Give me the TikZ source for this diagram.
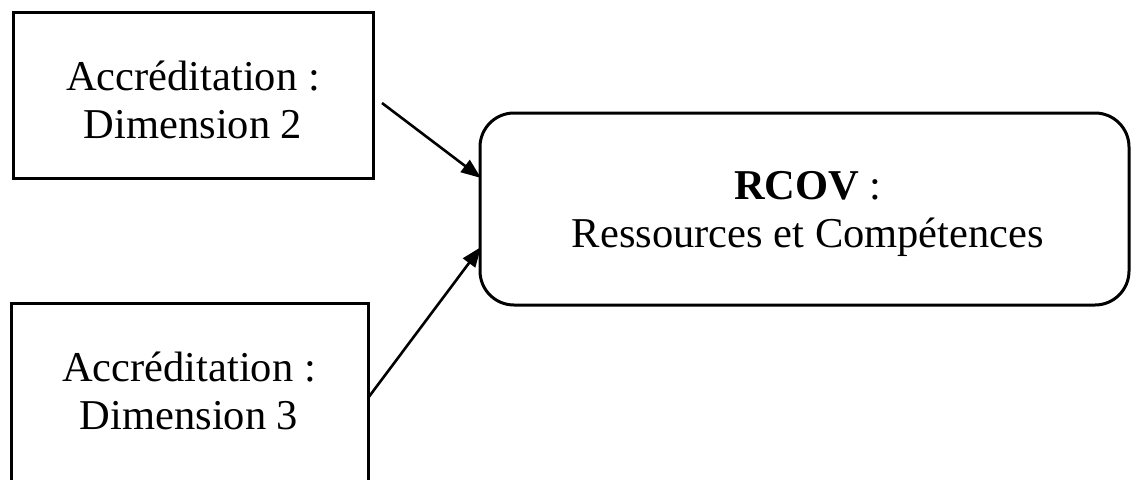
\documentclass[tikz,border=0pt]{standalone}
\usepackage{fontspec}
\setmainfont{Liberation Serif}
\usetikzlibrary{arrows.meta}
\begin{document}
\begin{tikzpicture}[x=1pt,y=-1pt,
  txt/.style={font=\fontsize{42.5}{48}\selectfont, align=center, inner sep=0pt},
  sqbox/.style={draw, line width=3pt, txt},
  rbox/.style={draw, line width=3pt, rounded corners=34pt, txt},
  arr/.style={line width=2.6pt, -{Triangle[length=20pt,width=15pt]}}]
\useasboundingbox (0,0) rectangle (1131,479);
\clip (0,0) rectangle (1131,479);
\node[sqbox, minimum width=360pt, minimum height=166pt] (a2) at (193,95) {};
\node[txt] (t2) at (193,100) {Accréditation :\\Dimension 2};
\node[sqbox, minimum width=357pt, minimum height=190pt] (a3) at (189.5,398) {};
\node[txt] (t3) at (189,391) {Accréditation :\\Dimension 3};
\node[rbox, minimum width=649pt, minimum height=192pt] (rc) at (804.5,209) {};
\node[txt] (tr) at (808,214) {\textbf{RCOV} :\\Ressources et Compétences};
\coordinate (s1) at (382,103);
\coordinate (e1) at (481,178);
\coordinate (s2) at (368,398);
\coordinate (e2) at (481,247);
\draw[arr] (s1) -- (e1);
\draw[arr] (s2) -- (e2);
\end{tikzpicture}
\end{document}
